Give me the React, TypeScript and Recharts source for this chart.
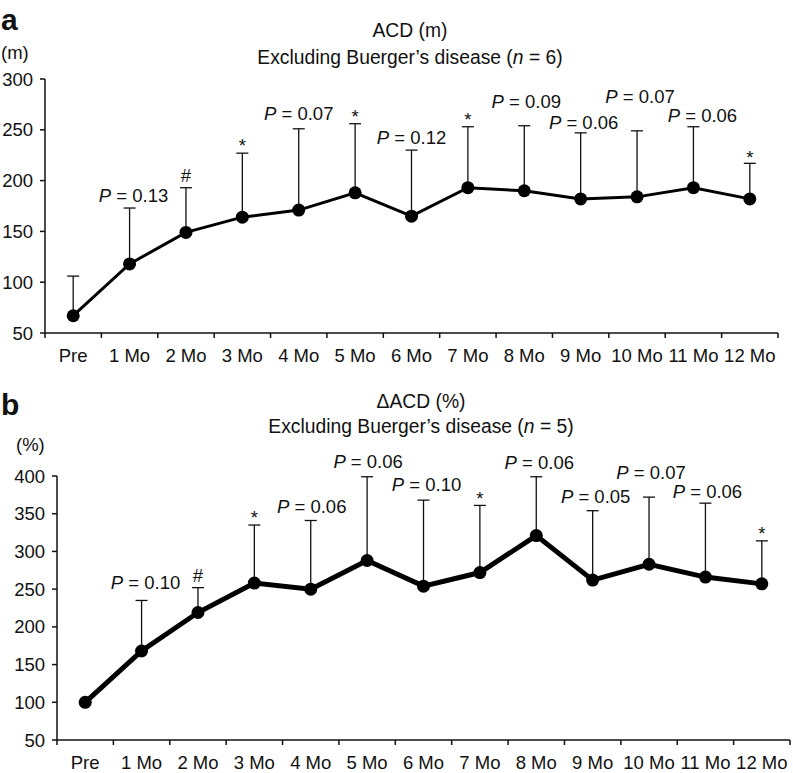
import { LineChart, Line, XAxis, YAxis, ErrorBar } from "recharts";

const CATEGORIES = ["Pre", "1 Mo", "2 Mo", "3 Mo", "4 Mo", "5 Mo", "6 Mo", "7 Mo", "8 Mo", "9 Mo", "10 Mo", "11 Mo", "12 Mo"];

// panel a: ACD (m)
const ACD_MEAN = [67, 118, 149, 164, 171, 188, 165, 193, 190, 182, 184, 193, 182];
const ACD_SD = [39, 55, 44, 63, 80, 68, 65, 60, 64, 65, 65, 60, 35];
const ACD_NOTES = ["", "P = 0.13", "#", "*", "P = 0.07", "*", "P = 0.12", "*", "P = 0.09", "P = 0.06", "P = 0.07", "P = 0.06", "*"];
const ACD_TICKS = [50, 100, 150, 200, 250, 300];

// panel b: ΔACD (%)
const DACD_MEAN = [100, 168, 219, 258, 250, 288, 254, 272, 321, 262, 283, 266, 257];
const DACD_SD = [0, 67, 33, 77, 91, 111, 114, 89, 78, 92, 89, 98, 57];
const DACD_NOTES = ["", "P = 0.10", "#", "*", "P = 0.06", "P = 0.06", "P = 0.10", "*", "P = 0.06", "P = 0.05", "P = 0.07", "P = 0.06", "*"];
const DACD_TICKS = [50, 100, 150, 200, 250, 300, 350, 400];

// label nudges (px) above the error bar caps
const ACD_NOTE_LIFT = [0, 6, 5.5, 1, 9, 0.7, 6, 0.7, 18, 3.7, 28, 5, -0.3];
const ACD_NOTE_SHIFT = [0, 4, 0, 0, 0, 0, 0, 0, 2, 3, 3, 9, 0];
const DACD_NOTE_LIFT = [0, 11, 5.8, 1, 7.7, 9, 9.4, 0.3, 8, 7.7, 18.5, 5.5, 1];
const DACD_NOTE_SHIFT = [0, 4, 0, 0, 1, 1, 3, 0, 3, 3, 2, 2, 0];

const FONT = '"Liberation Sans", Arial, Helvetica, sans-serif';
const FS = 18.5;
const TITLE_FS = 19.3;
const INK = "#111";
const W = 793;

function Note({ cx, cy, text, lift, shift }: any) {
  if (!text || cx == null || cy == null) return <g />;
  const x = cx + shift;
  const y = cy - lift;
  if (text.startsWith("P")) {
    return (
      <text x={x} y={y} textAnchor="middle" fontFamily={FONT} fontSize={FS} fill={INK}>
        <tspan fontStyle="italic">P</tspan>
        {text.slice(1)}
      </text>
    );
  }
  return (
    <text x={x} y={y} textAnchor="middle" fontFamily={FONT} fontSize={FS} fill={INK}>
      {text}
    </text>
  );
}

type PanelProps = {
  top: number;
  height: number;
  marginTop: number;
  yWidth: number;
  marginRight: number;
  xHeight: number;
  ticks: number[];
  means: number[];
  sds: number[];
  notes: string[];
  lifts: number[];
  shifts: number[];
  lineWidth: number;
  dotR: number;
};

function Panel(p: PanelProps) {
  const data = CATEGORIES.map((cat, i) => ({
    cat,
    mean: p.means[i],
    err: [0, p.sds[i]],
    top: p.means[i] + p.sds[i],
    note: p.notes[i],
  }));
  const bw = (W - p.yWidth - p.marginRight) / CATEGORIES.length;

  const XTick = (props: any) => {
    const { x, y, payload, index } = props;
    return (
      <g>
        <line x1={x - bw / 2} x2={x - bw / 2} y1={y} y2={y + 5} stroke={INK} strokeWidth={1.5} />
        {index === CATEGORIES.length - 1 && (
          <line x1={x + bw / 2} x2={x + bw / 2} y1={y} y2={y + 5} stroke={INK} strokeWidth={1.5} />
        )}
        <text x={x} y={y + 29} textAnchor="middle" fontFamily={FONT} fontSize={FS} fill={INK}>
          {payload.value}
        </text>
      </g>
    );
  };

  return (
    <div style={{ position: "absolute", left: 0, top: p.top }}>
      <LineChart
        width={W}
        height={p.height}
        data={data}
        margin={{ top: p.marginTop, right: p.marginRight, bottom: 0, left: 0 }}
      >
        <XAxis
          dataKey="cat"
          scale="band"
          interval={0}
          height={p.xHeight}
          tickLine={false}
          tickSize={0}
          tickMargin={0}
          axisLine={{ stroke: INK, strokeWidth: 1.5 }}
          tick={XTick}
        />
        <YAxis
          width={p.yWidth}
          domain={[p.ticks[0], p.ticks[p.ticks.length - 1]]}
          ticks={p.ticks}
          interval={0}
          tickSize={5}
          tickMargin={7}
          axisLine={{ stroke: INK, strokeWidth: 1.5 }}
          tickLine={{ stroke: INK, strokeWidth: 1.5 }}
          tick={{ fill: INK, fontSize: FS, fontFamily: FONT }}
        />
        <Line
          dataKey="mean"
          stroke="#000"
          strokeWidth={p.lineWidth}
          dot={{ r: p.dotR, fill: "#000", stroke: "none" }}
          activeDot={false}
          isAnimationActive={false}
        >
          <ErrorBar dataKey="err" direction="y" width={6} stroke={INK} strokeWidth={1.3} />
        </Line>
        <Line
          dataKey="top"
          stroke="none"
          activeDot={false}
          isAnimationActive={false}
          dot={(d: any) => (
            <Note
              key={`n${d.index}`}
              cx={d.cx}
              cy={d.cy}
              text={p.notes[d.index]}
              lift={p.lifts[d.index]}
              shift={p.shifts[d.index]}
            />
          )}
        />
      </LineChart>
    </div>
  );
}

export default function App() {
  return (
    <div style={{ position: "absolute", left: 0, top: 0, width: W, height: 773, background: "#fff" }}>
      <Panel
        top={0}
        height={380}
        marginTop={79}
        yWidth={45}
        marginRight={15}
        xHeight={47}
        ticks={ACD_TICKS}
        means={ACD_MEAN}
        sds={ACD_SD}
        notes={ACD_NOTES}
        lifts={ACD_NOTE_LIFT}
        shifts={ACD_NOTE_SHIFT}
        lineWidth={3}
        dotR={6.5}
      />
      <Panel
        top={380}
        height={393}
        marginTop={96}
        yWidth={57}
        marginRight={3}
        xHeight={33}
        ticks={DACD_TICKS}
        means={DACD_MEAN}
        sds={DACD_SD}
        notes={DACD_NOTES}
        lifts={DACD_NOTE_LIFT}
        shifts={DACD_NOTE_SHIFT}
        lineWidth={5}
        dotR={6.5}
      />
      <svg
        width={W}
        height={773}
        style={{ position: "absolute", left: 0, top: 0, pointerEvents: "none" }}
        fontFamily={FONT}
        fill={INK}
      >
        <text x={1} y={30} fontSize={30} fontWeight="bold">a</text>
        <text x={1} y={59} fontSize={FS}>(m)</text>
        <text x={410} y={37} fontSize={TITLE_FS} textAnchor="middle">ACD (m)</text>
        <text x={410} y={64} fontSize={TITLE_FS} textAnchor="middle">
          Excluding Buerger’s disease (<tspan fontStyle="italic">n</tspan> = 6)
        </text>

        <text x={1} y={415} fontSize={30} fontWeight="bold">b</text>
        <text x={16} y={451} fontSize={FS}>(%)</text>
        <text x={421} y={408} fontSize={TITLE_FS} textAnchor="middle">ΔACD (%)</text>
        <text x={421} y={433} fontSize={TITLE_FS} textAnchor="middle">
          Excluding Buerger’s disease (<tspan fontStyle="italic">n</tspan> = 5)
        </text>
      </svg>
    </div>
  );
}
